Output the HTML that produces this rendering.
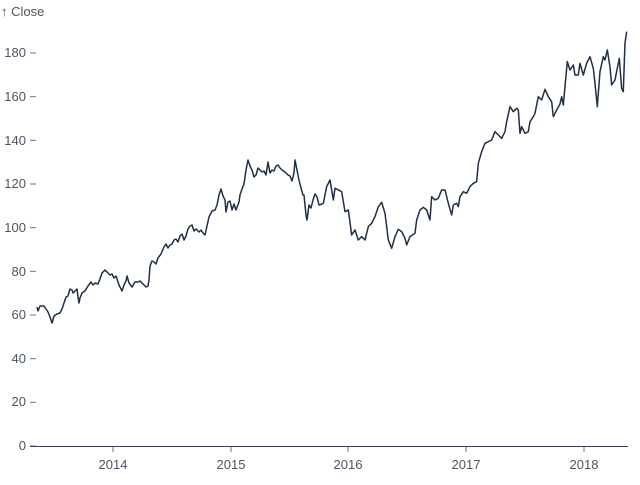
<!DOCTYPE html>
<html><head><meta charset="utf-8"><style>
body{margin:0;background:#fff}
svg{display:block;font-family:"Liberation Sans",sans-serif;font-size:13px;fill:#4b5563}
</style></head><body>
<svg width="640" height="485" viewBox="0 0 640 485">
<text x="1" y="16">↑ Close</text>
<g text-anchor="end">
<text x="26" y="450">0</text><text x="26" y="406">20</text><text x="26" y="363">40</text><text x="26" y="319">60</text><text x="26" y="276">80</text><text x="26" y="232">100</text><text x="26" y="188">120</text><text x="26" y="145">140</text><text x="26" y="101">160</text><text x="26" y="57">180</text>
</g>
<g stroke="#6b7280" stroke-width="1">
<line x1="30" x2="36" y1="446" y2="446"/><line x1="30" x2="36" y1="402.3" y2="402.3"/><line x1="30" x2="36" y1="358.7" y2="358.7"/><line x1="30" x2="36" y1="315" y2="315"/><line x1="30" x2="36" y1="271.3" y2="271.3"/><line x1="30" x2="36" y1="227.7" y2="227.7"/><line x1="30" x2="36" y1="184" y2="184"/><line x1="30" x2="36" y1="140.3" y2="140.3"/><line x1="30" x2="36" y1="96.7" y2="96.7"/><line x1="30" x2="36" y1="53" y2="53"/>
<line x1="113" x2="113" y1="447" y2="452"/><line x1="231" x2="231" y1="447" y2="452"/><line x1="348" x2="348" y1="447" y2="452"/><line x1="466" x2="466" y1="447" y2="452"/><line x1="584" x2="584" y1="447" y2="452"/>
</g>
<line x1="30" x2="628" y1="446.5" y2="446.5" stroke="#374151" stroke-width="1"/>
<g text-anchor="middle"><text x="113" y="469">2014</text><text x="231" y="469">2015</text><text x="348" y="469">2016</text><text x="466" y="469">2017</text><text x="584" y="469">2018</text></g>
<g fill="none" stroke="#1f2f45" stroke-width="1.5" stroke-linejoin="round">
<polyline points="37,307 38,311 40,306 44,306 48,312 50,317 52,323 54,316 57,314 60,313 62,309 64,303 66,297 68,296 70,289 72,290 73,293 75,291 77,289 78,297 79,303 80,298 82,293 85,291 88,286 91,282 93,285 95,283 98,284 100,279 102,273 105,270 107,272 110,275 112,274 114,278 116,276 119,285 122,291 124,285 126,281 127,276 129,283 132,287 135,282 138,282 140,281 143,284 146,287 148,286 149,280 150,266 152,261 154,262 156,264 158,258 161,254 164,247 166,244 168,248 170,245 172,244 174,240 176,239 178,242 180,236 182,234 184,240 186,236 188,229 190,226 192,225 194,231 196,229 199,232 201,230 203,233 205,235 207,226 209,217 212,211 215,210 217,205 219,195 221,189 223,196 225,200 226,212 228,202 230,201 232,210 234,204 236,210 239,202 240,195 242,189 244,184 246,170 248,160 250,166 252,170 254,177 256,175 258,168 260,170 262,172 264,171 266,175 268,162 270,173 272,170 274,171 276,166 278,165 280,168 282,170 285,172 288,175 290,176 292,181 294,173 295,160 297,170 299,180 301,188 303,195 304,195 306,215 307,220 309,205 311,208 313,200 315,194 317,197 319,205 320,205"/>
<polyline vector-effect="non-scaling-stroke" transform="translate(320,0) scale(0.3333)" points="0,615 10,610 20,560 30,540 40,600 45,565 55,570 65,575 75,635 85,630 95,705 105,690 115,720 125,710 135,720 145,680 155,670 165,650 175,620 185,607 195,640 205,720 215,745 225,710 235,688 245,695 255,715 260,735 270,710 285,700 290,660 300,630 310,622 320,630 330,660 335,590 345,600 355,595 365,570 375,570 385,610 395,645 400,615 410,610 415,620 420,590 430,575 440,580 450,560 460,550 470,545 475,490 485,455 495,430 505,425 515,420 525,395 535,405 545,415 555,395 560,365 570,320 580,335 590,325 595,330 600,400 605,380 615,400 625,395 630,365 640,350 645,340 655,290 665,300 675,268 685,290 695,305 700,350 710,330 720,312 725,290 730,315 735,260 742,185 750,210 760,195 765,225 775,225 780,190 790,225 800,190 810,170 820,205 825,250 832,320 840,215 850,170 855,180 862,150 870,200 875,255 885,240 890,215 898,175 905,265 910,275 915,130 920,95"/>
</g>
</svg>
</body></html>
